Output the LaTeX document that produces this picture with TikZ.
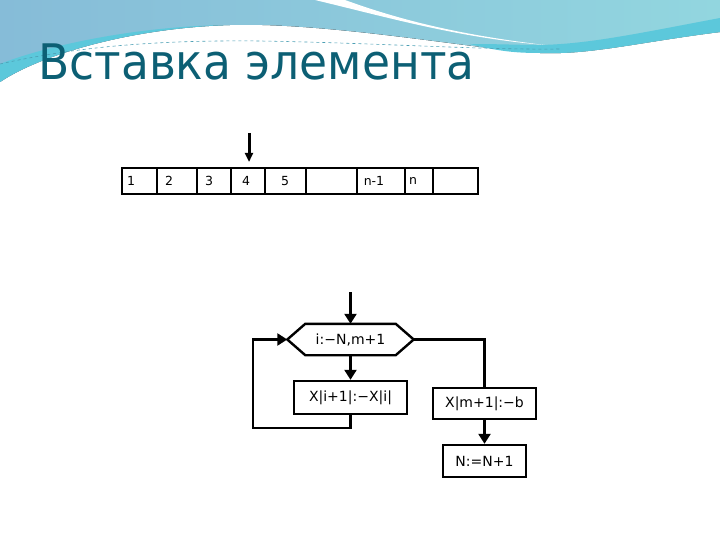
\documentclass[tikz,border=0pt]{standalone}
\usepackage{fontspec}
\setmainfont{DejaVu Sans}
\usetikzlibrary{arrows.meta,positioning}
\definecolor{titleteal}{HTML}{0C5F74}
\definecolor{skyblue}{HTML}{86BCD8}
\definecolor{skycyan}{HTML}{92D6DF}
\definecolor{wavecyan}{HTML}{5CC8DB}
\definecolor{wavedash}{HTML}{4C9FB4}
\tikzset{
  cell/.style    = {draw, line width=2pt, minimum height=26pt, inner sep=0pt},
  num/.style     = {font=\fontsize{12.5}{12}\selectfont, inner sep=0pt},
  block/.style   = {draw, line width=2.4pt, inner sep=0pt, font=\fontsize{14}{15}\selectfont},
  flow/.style    = {line width=2.4pt},
  flowarr/.style = {flow, -{Triangle[length=10pt,width=12pt]}},
  droparr/.style = {line width=3pt, -{Triangle[length=9pt,width=8pt]}},
}
\begin{document}
\begin{tikzpicture}[x=1pt,y=-1pt]
  \useasboundingbox (0,0) rectangle (720,540);
  % header waves
  \fill[left color=skyblue, right color=skycyan] (0,0) -- (720,0) -- (720,32)
    .. controls (640,42) and (590,55) .. (540,53)
    .. controls (480,50) and (330,22) .. (230,25)
    .. controls (130,28) and (40,55) .. (0,82) -- cycle;
  \fill[wavecyan] (0,82) .. controls (40,55) and (130,28) .. (230,25)
    .. controls (130,26) and (40,48) .. (0,64) -- cycle;
  \fill[wavecyan] (470,44) .. controls (500,52) and (520,53) .. (540,53)
    .. controls (590,55) and (640,42) .. (720,32) -- (720,18)
    .. controls (640,33) and (590,44) .. (540,45)
    .. controls (520,45) and (500,44) .. (470,44) -- cycle;
  \fill[white] (315,0) -- (345,0) .. controls (400,20) and (460,35) .. (545,45)
    .. controls (460,38) and (390,18) .. (315,0) -- cycle;
  \draw[wavedash, dashed, line width=0.6pt] (0,64) .. controls (80,46) and (160,40) .. (260,41)
    .. controls (380,43) and (480,50) .. (560,49);
  % title
  \node[anchor=base west, text=titleteal, font=\fontsize{49}{49}\selectfont, inner sep=0pt]
    (title) at (38,80) {\scalebox{0.93}[1]{Вставка элемента}};
  % array
  \foreach \i/\l/\r in {1/122/157,2/157/197,3/197/231,4/231/265,5/265/306,
                         6/306/357,7/357/405,8/405/433}{
    \pgfmathsetmacro\w{\r-\l}
    \pgfmathsetmacro\m{(\l+\r)/2}
    \node[cell, minimum width=\w pt] (c\i) at (\m,181) {};
  }
  \node[cell, line width=2.6pt, minimum width=45pt] (c9) at (455.5,181) {};
  \foreach \t/\x [count=\k] in {1/131,2/169,3/209,4/246,5/285,n-1/374,n/413}
    \node[num] (lab\k) at (\x,181) {\t};
  \coordinate (drop) at (249,133);
  \draw[droparr, shorten >=5pt] (drop) -- (drop |- c4.north);
  % flowchart
  \coordinate (entry) at (350.5,292);
  \node[block, draw=none, minimum width=124pt, minimum height=29pt] (hex) at (350.5,339.5) {i:−N,m+1};
  \draw[flow] (hex.west) -- ([xshift=18pt]hex.north west) -- ([xshift=-18pt]hex.north east)
    -- (hex.east) -- ([xshift=-18pt]hex.south east) -- ([xshift=18pt]hex.south west) -- cycle;
  \node[block, minimum width=113pt, minimum height=33pt] (copy) at (350.5,397.5) {X|i+1|:−X|i|};
  \node[block, minimum width=103pt, minimum height=31pt] (put) at (484.5,403.5) {X|m+1|:−b};
  \node[block, minimum width=83pt, minimum height=32pt] (inc) at (484.5,461) {N:=N+1};
  \coordinate (back) at (253,428);
  \draw[flowarr] (entry) -- (hex.north);
  \draw[flowarr] (hex.south) -- (copy.north);
  \draw[flowarr] (copy.south) |- (back) |- (hex.west);
  \draw[flow] (hex.east) -| (put.north);
  \draw[flowarr] (put.south) -- (inc.north);
\end{tikzpicture}
\end{document}
